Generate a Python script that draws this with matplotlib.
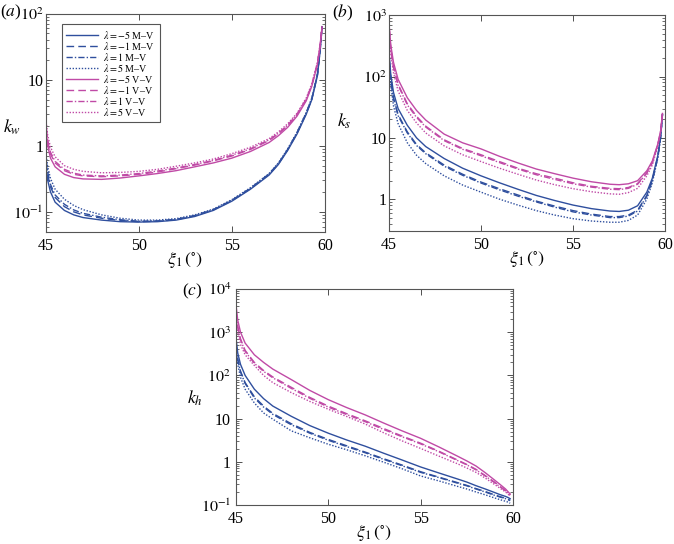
import numpy as np
import matplotlib.pyplot as plt
from matplotlib.ticker import LogLocator, FuncFormatter, NullFormatter

plt.rcParams['font.family'] = ['Liberation Serif', 'DejaVu Serif']
plt.rcParams['mathtext.fontset'] = 'stix'

# common abscissa (degrees)
xi = [45.02, 45.1, 45.25, 45.5, 46, 46.5, 47, 48, 49, 50, 51, 52, 53, 54, 55,
      56, 57, 57.5, 58, 58.5, 59, 59.3, 59.6, 59.75, 59.85]

lambdas = [-5, -1, 1, 5]

# ---- (a) k_w ----
kw_mv_m5 = [0.45, 0.3, 0.2, 0.14, 0.105, 0.09, 0.082, 0.075, 0.071, 0.07, 0.071, 0.075, 0.085,
            0.105, 0.145, 0.22, 0.36, 0.52, 0.85, 1.5, 3.0, 5.0, 11.5, 28, 62]
kw_mv_m1 = [0.55, 0.36, 0.24, 0.165, 0.12, 0.1, 0.09, 0.08, 0.074, 0.071, 0.072, 0.076, 0.087,
            0.107, 0.148, 0.225, 0.37, 0.53, 0.87, 1.55, 3.1, 5.1, 11.8, 29, 63]
kw_mv_p1 = [0.6, 0.4, 0.26, 0.18, 0.13, 0.107, 0.095, 0.083, 0.076, 0.072, 0.073, 0.077, 0.088,
            0.108, 0.15, 0.228, 0.375, 0.54, 0.88, 1.57, 3.15, 5.2, 12, 29.5, 64]
kw_mv_p5 = [0.7, 0.48, 0.32, 0.22, 0.155, 0.125, 0.108, 0.09, 0.08, 0.075, 0.075, 0.079, 0.09,
            0.11, 0.153, 0.232, 0.38, 0.55, 0.9, 1.6, 3.2, 5.3, 12.3, 30, 65]
kw_vv_m5 = [1.6, 1.0, 0.65, 0.48, 0.37, 0.33, 0.315, 0.31, 0.325, 0.35, 0.38, 0.42, 0.48,
            0.55, 0.65, 0.82, 1.12, 1.42, 1.9, 2.8, 4.8, 8.0, 17, 33, 62]
kw_vv_m1 = [1.8, 1.15, 0.75, 0.55, 0.42, 0.37, 0.35, 0.34, 0.35, 0.37, 0.40, 0.45, 0.51,
            0.59, 0.70, 0.88, 1.2, 1.52, 2.0, 2.95, 5.0, 8.3, 17.5, 34, 63]
kw_vv_p1 = [1.9, 1.22, 0.8, 0.58, 0.44, 0.385, 0.36, 0.35, 0.36, 0.38, 0.415, 0.46, 0.52,
            0.6, 0.72, 0.9, 1.23, 1.55, 2.05, 3.0, 5.1, 8.4, 17.8, 34.5, 64]
kw_vv_p5 = [2.3, 1.45, 0.95, 0.68, 0.5, 0.44, 0.41, 0.39, 0.395, 0.41, 0.44, 0.49, 0.55,
            0.63, 0.76, 0.95, 1.28, 1.62, 2.15, 3.1, 5.3, 8.7, 18.3, 35, 66]

# ---- (b) k_s ----
ks_mv_m5 = [220, 110, 55, 30, 16, 10, 7.2, 4.6, 3.2, 2.4, 1.85, 1.45, 1.15, 0.95, 0.8,
            0.7, 0.64, 0.63, 0.66, 0.78, 1.3, 2.2, 5.2, 10.5, 24]
ks_mv_m1 = [190, 92, 45, 24, 12.5, 7.8, 5.7, 3.6, 2.55, 1.9, 1.48, 1.17, 0.93, 0.77, 0.65,
            0.57, 0.52, 0.52, 0.55, 0.66, 1.15, 2.05, 5.0, 10.3, 24]
ks_mv_p1 = [180, 88, 43, 23, 12, 7.5, 5.5, 3.45, 2.45, 1.83, 1.42, 1.12, 0.9, 0.74, 0.62,
            0.55, 0.5, 0.5, 0.53, 0.64, 1.12, 2.0, 4.9, 10.2, 24]
ks_mv_p5 = [150, 72, 33, 17, 8.3, 5.2, 3.8, 2.4, 1.7, 1.3, 1.0, 0.8, 0.65, 0.55, 0.48,
            0.44, 0.42, 0.42, 0.45, 0.55, 1.0, 1.85, 4.7, 10, 24]
ks_vv_m5 = [650, 330, 170, 90, 45, 28, 19.5, 11.5, 8.3, 6.6, 5.0, 3.9, 3.1, 2.6, 2.2,
            1.92, 1.75, 1.72, 1.78, 2.0, 2.9, 4.2, 8, 13, 25]
ks_vv_m1 = [600, 290, 145, 75, 36, 22.5, 15.5, 9.3, 6.7, 5.3, 4.1, 3.2, 2.6, 2.2, 1.85,
            1.62, 1.5, 1.48, 1.55, 1.8, 2.7, 4.0, 7.8, 12.8, 25]
ks_vv_p1 = [580, 280, 140, 72, 34.5, 21.5, 15, 9.0, 6.5, 5.1, 3.95, 3.1, 2.5, 2.1, 1.78,
            1.57, 1.45, 1.43, 1.5, 1.75, 2.65, 3.9, 7.7, 12.7, 25]
ks_vv_p5 = [520, 240, 115, 58, 28, 17.5, 12, 7.4, 5.3, 4.1, 3.2, 2.55, 2.05, 1.72, 1.48,
            1.32, 1.22, 1.2, 1.28, 1.5, 2.4, 3.6, 7.4, 12.5, 25]

# ---- (c) k_h ----
kh_mv_m5 = [650, 330, 180, 100, 48, 29, 19.5, 11.3, 6.9, 4.6, 3.2, 2.3, 1.58, 1.1, 0.76,
            0.55, 0.4, 0.34, 0.28, 0.235, 0.195, 0.174, 0.158, 0.148, 0.14]
kh_mv_m1 = [480, 240, 125, 68, 32, 19.5, 13.2, 7.6, 4.8, 3.3, 2.35, 1.68, 1.18, 0.84, 0.59,
            0.44, 0.33, 0.285, 0.24, 0.205, 0.172, 0.156, 0.143, 0.135, 0.128]
kh_mv_p1 = [460, 230, 120, 65, 30, 18.5, 12.5, 7.2, 4.6, 3.15, 2.25, 1.62, 1.14, 0.81, 0.57,
            0.43, 0.32, 0.278, 0.235, 0.2, 0.168, 0.153, 0.14, 0.132, 0.126]
kh_mv_p5 = [380, 180, 90, 48, 23, 13.5, 9.7, 5.2, 3.6, 2.55, 1.9, 1.38, 0.98, 0.69, 0.47,
            0.36, 0.27, 0.235, 0.2, 0.172, 0.146, 0.133, 0.122, 0.116, 0.11]
kh_vv_m5 = [3800, 1900, 1000, 560, 300, 200, 140, 80, 45, 27.5, 18, 12.2, 7.9, 5.2, 3.5,
            2.2, 1.35, 1.05, 0.8, 0.56, 0.38, 0.3, 0.235, 0.2, 0.18]
kh_vv_m1 = [2800, 1350, 700, 380, 200, 130, 92, 53, 31, 19.5, 13, 8.9, 5.9, 3.95, 2.7,
            1.75, 1.1, 0.87, 0.67, 0.48, 0.34, 0.27, 0.215, 0.187, 0.17]
kh_vv_p1 = [2700, 1300, 670, 360, 190, 124, 88, 50, 29.5, 18.5, 12.4, 8.5, 5.6, 3.8, 2.6,
            1.7, 1.07, 0.85, 0.65, 0.47, 0.33, 0.265, 0.212, 0.185, 0.168]
kh_vv_p5 = [2200, 1000, 520, 300, 170, 100, 68, 40, 25, 16.5, 11.2, 7.5, 4.7, 3.05, 2.04,
            1.35, 0.9, 0.72, 0.57, 0.42, 0.3, 0.245, 0.2, 0.176, 0.16]

blue = '#2f4f9e'
magenta = '#c04aa6'
styles = ['-', (0, (5.5, 3)), (0, (4.5, 1.5, 1, 1.5)), (0, (1, 1.2))]

fig = plt.figure(figsize=(6.74, 5.44), dpi=100)
ax_a = fig.add_axes([0.068, 0.574, 0.414, 0.401])
ax_b = fig.add_axes([0.577, 0.575, 0.410, 0.397])
ax_c = fig.add_axes([0.350, 0.0717, 0.411, 0.397])


def dec_fmt(v, pos):
    n = int(round(np.log10(v)))
    if n == 0:
        return '1'
    if n == 1:
        return '10'
    return r'$10^{%d}$' % n


def style_axis(ax, ylim, ylab, ylab_xy, ypad):
    ax.set_yscale('log')
    ax.set_xlim(45, 60)
    ax.set_ylim(*ylim)
    ax.set_xticks([45, 50, 55, 60])
    ax.yaxis.set_major_locator(LogLocator(base=10, numticks=12))
    ax.yaxis.set_minor_locator(LogLocator(base=10, subs=np.arange(2, 10), numticks=12))
    ax.yaxis.set_major_formatter(FuncFormatter(dec_fmt))
    ax.yaxis.set_minor_formatter(NullFormatter())
    ax.tick_params(which='both', direction='in', top=True, right=True,
                   labelsize=11.5, colors='#333333', labelcolor='black')
    ax.tick_params(which='major', length=4.5, width=0.6)
    ax.tick_params(axis='y', which='major', pad=ypad)
    ax.tick_params(axis='x', which='major', pad=4.5)
    ax.tick_params(which='minor', length=2.5, width=0.5)
    for t in ax.get_yticklabels():
        t.set_va('center_baseline')
    for s in ax.spines.values():
        s.set_color('#555555')
        s.set_linewidth(0.8)
    ax.set_xlabel(r'$\xi_1\,(^{\circ})$', fontsize=13, labelpad=-3)
    ax.set_ylabel(ylab, fontsize=13, rotation=0, va='center', ha='center')
    ax.yaxis.set_label_coords(*ylab_xy)


panels = [
    (ax_a, [kw_mv_m5, kw_mv_m1, kw_mv_p1, kw_mv_p5], [kw_vv_m5, kw_vv_m1, kw_vv_p1, kw_vv_p5],
     (0.05, 100), r'$k_w$', (-0.12, 0.48), 1.5),
    (ax_b, [ks_mv_m5, ks_mv_m1, ks_mv_p1, ks_mv_p5], [ks_vv_m5, ks_vv_m1, ks_vv_p1, ks_vv_p5],
     (0.3, 1000), r'$k_s$', (-0.16, 0.51), 1.5),
    (ax_c, [kh_mv_m5, kh_mv_m1, kh_mv_p1, kh_mv_p5], [kh_vv_m5, kh_vv_m1, kh_vv_p1, kh_vv_p5],
     (0.1, 1e4), r'$k_h$', (-0.148, 0.495), 3.5),
]

for ax, mv, vv, ylim, ylab, lxy, ypad in panels:
    for lam, ls, y in zip(lambdas, styles, mv):
        ax.plot(xi, y, color=blue, ls=ls, lw=1.0,
                label=r'$\lambda = %d$ M–V' % lam)
    for lam, ls, y in zip(lambdas, styles, vv):
        ax.plot(xi, y, color=magenta, ls=ls, lw=1.0,
                label=r'$\lambda = %d$ V–V' % lam)
    style_axis(ax, ylim, ylab, lxy, ypad)

leg = ax_a.legend(loc='upper left', bbox_to_anchor=(0.057, 0.952), fontsize=7.2,
                  handlelength=3.2, handletextpad=0.5, labelspacing=-0.1,
                  borderpad=0.45, borderaxespad=0, fancybox=False, framealpha=1)
leg.get_frame().set_edgecolor('#555555')
leg.get_frame().set_linewidth(0.8)

fig.text(0.0, 0.978, r'($a$)', fontsize=12.5, va='center', ha='left')
fig.text(0.492, 0.976, r'($b$)', fontsize=12.5, va='center', ha='left')
fig.text(0.270, 0.465, r'($c$)', fontsize=12.5, va='center', ha='left')

fig.savefig('out.png', dpi=100)
